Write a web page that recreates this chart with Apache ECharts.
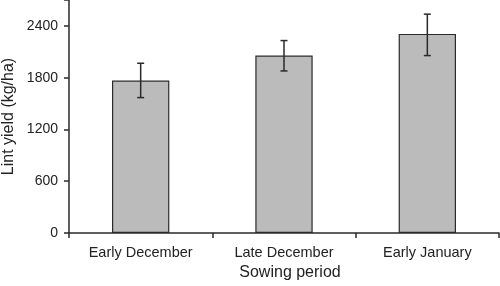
<!DOCTYPE html>
<html>
<head>
<meta charset="utf-8">
<script src="https://cdn.jsdelivr.net/npm/echarts@6/dist/echarts.min.js"></script>
<style>
  html, body { margin: 0; padding: 0; background: #fff; }
  #chart { width: 500px; height: 286px; }
</style>
</head>
<body>
<div id="chart"></div>
<script>
// 数据
const categories = ['Early December', 'Late December', 'Early January'];
const yieldValues = [1766, 2056, 2307];
const errLow = [1569, 1878, 2056];
const errHigh = [1967, 2230, 2536];
const yTicks = [0, 600, 1200, 1800, 2400];

const chart = echarts.init(document.getElementById('chart'));

const textColor = '#222';
const lineColor = '#2a2a2a';

const option = {
    animation: false,
    textStyle: { fontFamily: 'Liberation Sans, Arial, sans-serif' },
    grid: { left: 69, right: 1, top: 0, bottom: 53, containLabel: false, outerBoundsMode: 'none' },
    xAxis: {
        type: 'category',
        data: categories,
        name: 'Sowing period',
        nameLocation: 'middle',
        nameGap: 32,
        nameMoveOverlap: false,
        nameTextStyle: { fontSize: 16, color: textColor, padding: [0, 0, 0, 12] },
        axisLine: { lineStyle: { color: lineColor, width: 1.5 } },
        axisTick: { show: true, length: 5, lineStyle: { color: lineColor, width: 1.5 } },
        axisLabel: { fontSize: 14.5, color: textColor, margin: 12 }
    },
    yAxis: {
        type: 'value',
        min: 0,
        max: 2700,
        interval: 600,
        name: 'Lint yield (kg/ha)',
        nameLocation: 'middle',
        nameGap: 52,
        nameMoveOverlap: false,
        nameTextStyle: { fontSize: 16, color: textColor },
        axisLine: { show: true, lineStyle: { color: lineColor, width: 1.5 } },
        axisTick: { show: true, length: 5, lineStyle: { color: lineColor, width: 1.5 } },
        axisLabel: {
            fontSize: 14,
            color: textColor,
            margin: 11,
            formatter: function (v) {
                return yTicks.indexOf(v) >= 0 ? String(v) : '';
            }
        },
        splitLine: { show: false }
    },
    series: [
        {
            name: 'Lint yield',
            type: 'bar',
            data: yieldValues,
            barWidth: '40%',
            itemStyle: { color: '#bbbbbb', borderColor: lineColor, borderWidth: 1.2 }
        },
        {
            name: 'error',
            type: 'custom',
            data: categories.map((c, i) => [i, errLow[i], errHigh[i]]),
            z: 5,
            renderItem: function (params, api) {
                const lo = api.coord([api.value(0), api.value(1)]);
                const hi = api.coord([api.value(0), api.value(2)]);
                const half = 3.5;
                const style = { stroke: lineColor, lineWidth: 1.5 };
                return {
                    type: 'group',
                    children: [
                        { type: 'line', shape: { x1: lo[0], y1: lo[1], x2: hi[0], y2: hi[1] }, style: style },
                        { type: 'line', shape: { x1: lo[0] - half, y1: lo[1], x2: lo[0] + half, y2: lo[1] }, style: style },
                        { type: 'line', shape: { x1: hi[0] - half, y1: hi[1], x2: hi[0] + half, y2: hi[1] }, style: style }
                    ]
                };
            }
        }
    ]
};

chart.setOption(option);
</script>
</body>
</html>
